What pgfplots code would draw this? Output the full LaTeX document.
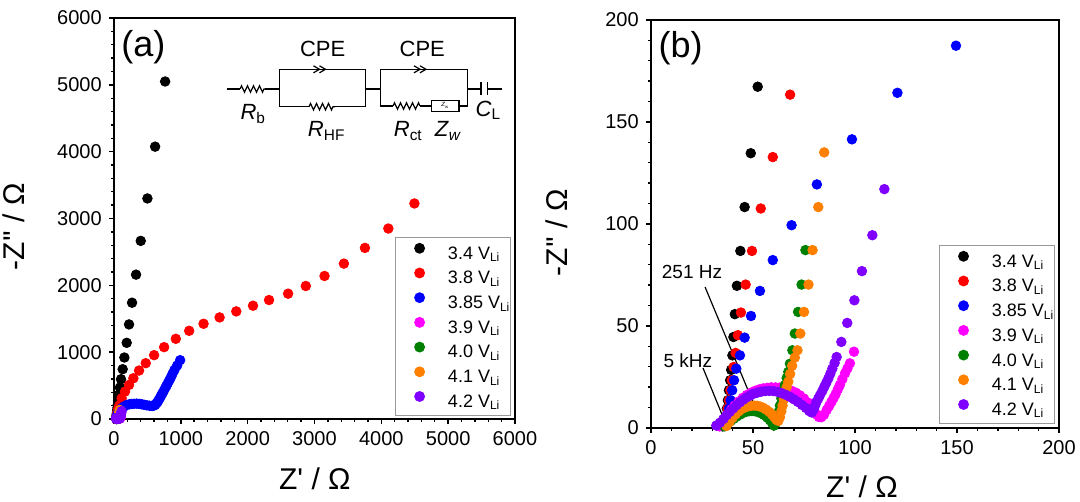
\documentclass[border=0pt]{standalone}
\usepackage{pgfplots}
\pgfplotsset{compat=1.18}
\usepackage{pgfplotstable}
\usepackage{fontspec}
\setmainfont{Liberation Sans}
\usetikzlibrary{decorations.pathmorphing}
\definecolor{cRed}{RGB}{255,0,0}
\definecolor{cBlue}{RGB}{0,0,255}
\definecolor{cMag}{RGB}{255,0,255}
\definecolor{cGreen}{RGB}{0,128,0}
\definecolor{cOrange}{RGB}{255,128,0}
\definecolor{cViolet}{RGB}{128,0,255}

\pgfplotstableread{
x y
35.0 0.8
35.8 2.5
36.6 5.4
37.2 9.5
37.7 13.6
38.2 18.5
38.8 23.4
39.3 28.5
39.9 35.6
40.4 44.6
41.1 55.8
42.1 69.7
43.8 86.8
45.9 108.3
48.9 134.7
52.3 167.3
57 215
63 280
70 360
88 470
105 595
130 745
155 920
190 1140
225 1415
270 1740
330 2160
400 2665
500 3300
615 4075
765 5050
}\dBlack

\pgfplotstableread{
x y
35.7 2.5
36.7 5.4
37.5 9.5
38.2 13.6
38.9 18.5
39.6 23.4
40.5 29.9
41.5 36.8
42.6 45.5
44.1 56.6
46.4 70.3
49.5 86.8
53.8 107.6
59.7 132.8
68.2 163.4
79.3 200.5
115 310
165 410
225 510
290 610
375 725
475 835
600 955
750 1075
925 1200
1125 1320
1340 1425
1580 1520
1830 1610
2080 1695
2320 1780
2605 1875
2870 1990
3150 2140
3440 2325
3755 2560
4105 2850
4495 3225
}\dRed

\pgfplotstableread{
x y
36.1 2.5
37.2 5.4
38.2 9.5
39.0 13.6
39.8 18.5
40.7 23.4
41.8 29.1
43.6 35.6
45.9 44.3
49.0 54.9
53.4 67.2
59.7 82.3
68.9 99.4
81.3 119.4
98.5 141.5
120.8 164.3
149.5 187.4
190 210
230 220
265 225
300 228
340 230
380 226
415 220
450 213
490 205
530 199
565 195
595 200
615 210
635 233
655 260
672 290
690 320
707 352
725 385
745 422
765 460
785 497
805 535
827 577
850 620
875 675
905 735
945 800
990 880
}\dBlue

\pgfplotstableread{
x y
33.5 0.8
35.0 2.5
36.5 4.7
38.0 7.0
39.5 9.2
41.0 11.0
43.0 13.0
45.0 14.8
47.0 16.2
49.0 17.3
51.0 18.2
53.0 18.9
55.0 19.4
57.0 19.7
59.0 19.9
61.0 19.9
63.0 19.8
65.0 19.4
67.0 18.9
69.0 18.2
71.0 17.3
73.0 16.0
75.0 14.4
77.0 12.4
78.5 10.5
80.0 8.4
81.2 6.6
82.3 5.4
83.5 5.3
84.8 6.5
86.1 8.8
87.3 10.8
88.5 12.9
89.5 14.7
90.5 16.6
91.6 19.0
92.6 21.1
93.8 23.9
95.1 26.8
96.3 29.2
97.5 31.7
99.5 37.4
}\dMag

\pgfplotstableread{
x y
36.0 0.8
37.5 2.0
39.0 3.3
40.5 4.5
42.0 5.6
43.5 6.5
45.0 7.3
46.5 7.9
48.0 8.2
49.5 8.3
51.0 8.2
52.5 7.8
54.0 7.2
55.5 6.3
57.0 5.1
58.3 3.8
59.4 2.4
60.3 1.2
61.2 2.5
62.0 5.0
62.6 8.0
63.2 11.0
63.9 14.5
64.7 18.0
65.6 21.0
66.5 24.5
67.3 27.5
68.1 31.5
69.3 38.1
70.5 46.3
72.1 56.9
73.8 70.3
75.7 87.2
}\dGreen

\pgfplotstableread{
x y
37.0 1.0
38.5 3.0
40.0 5.0
41.5 6.7
43.0 8.2
44.5 9.3
46.0 10.1
47.5 10.6
49.0 10.9
50.5 11.0
52.0 10.9
53.5 10.5
55.0 9.9
56.5 9.0
58.0 7.9
59.3 6.6
60.5 5.2
61.5 4.0
62.4 3.5
63.2 5.3
63.9 8.2
64.5 11.0
65.1 14.0
65.8 17.0
66.5 20.0
67.3 22.7
68.2 26.5
69.2 30.5
70.5 34.5
71.8 38.1
73.2 46.3
75.0 56.9
77.2 70.3
79.2 87.2
82.0 108.3
84.9 135.1
}\dOrange

\pgfplotstableread{
x y
32.0 1.2
33.8 2.6
35.5 4.4
37.1 6.3
38.7 8.0
40.3 9.6
42.0 11.2
43.6 12.6
45.3 13.9
46.9 15.0
48.5 15.9
50.1 16.7
52.0 17.3
54.0 17.8
56.0 18.1
58.0 18.2
60.0 18.1
62.0 17.7
64.0 17.1
66.0 16.3
68.0 15.3
70.0 14.1
72.0 12.8
74.0 11.3
76.0 9.8
77.6 8.3
78.8 7.6
79.7 9.0
80.4 10.9
81.1 12.8
82.0 14.4
82.8 16.0
83.9 18.0
84.9 20.1
85.9 22.1
86.9 24.2
87.9 26.6
88.9 29.1
90.0 31.9
91.0 34.8
93.3 42.2
96.2 51.5
99.7 62.6
103.4 76.9
108.5 94.5
114.4 117.1
}\dViolet

\pgfplotsset{
  eis/.style={
    scale only axis,
    tick align=outside, tick pos=left,
    major tick length=2.6pt, minor tick length=1.6pt,
    axis line style={line width=0.9pt},
    every tick/.style={black, line width=0.7pt},
    scaled ticks=false,
    /pgf/number format/1000 sep={},
    /pgf/number format/assume math mode=true,
    tick label style={font=\fontsize{10}{12}\selectfont},
    label style={font=\fontsize{15}{18}\selectfont},
    xlabel={Z\textquotesingle\ / Ω},
    ylabel={-Z\textquotesingle\textquotesingle\ / Ω},
    minor x tick num=4, minor y tick num=4,
    legend cell align=left,
    legend image code/.code={%
      \path[draw=none,fill=none] (-12pt,-2.5pt) rectangle (10pt,7pt);
      \draw[##1] plot coordinates {(0pt,3.2pt)};},
    legend style={anchor=south east, draw=black!40, line width=0.6pt,
      font=\fontsize{9}{11}\selectfont,
      inner xsep=0pt, inner ysep=1.5pt, row sep=0.6pt, column sep=4.2pt,
      nodes={inner sep=0pt, text height=7pt, text depth=2.5pt}},
  },
  pt/.style={only marks, mark=*, mark size=2.4pt, color=#1},
}

\begin{document}
\begin{tikzpicture}
\useasboundingbox (0,0) rectangle (540pt,251pt);

\begin{axis}[eis,
  at={(57pt,41.5pt)}, anchor=south west,
  width=200.5pt, height=200.5pt,
  xmin=0, xmax=6000, ymin=0, ymax=6000,
  xtick={0,1000,...,6000}, ytick={0,1000,...,6000},
  xlabel style={at={(axis description cs:0.501,-0.150)}, anchor=center},
  ylabel style={at={(axis description cs:-0.249,0.48)}, anchor=center},
  legend style={at={(0.99,0.0075)}},
]
\addplot[pt=black] table {\dBlack}; \addlegendentry{3.4 V\textsubscript{Li}}
\addplot[pt=cRed] table {\dRed}; \addlegendentry{3.8 V\textsubscript{Li}}
\addplot[pt=cBlue] table {\dBlue}; \addlegendentry{3.85 V\textsubscript{Li}}
\addplot[pt=cMag] table {\dMag}; \addlegendentry{3.9 V\textsubscript{Li}}
\addplot[pt=cGreen] table {\dGreen}; \addlegendentry{4.0 V\textsubscript{Li}}
\addplot[pt=cOrange] table {\dOrange}; \addlegendentry{4.1 V\textsubscript{Li}}
\addplot[pt=cViolet] table {\dViolet}; \addlegendentry{4.2 V\textsubscript{Li}}
\end{axis}

\begin{axis}[eis,
  at={(325.5pt,37pt)}, anchor=south west,
  width=204pt, height=204pt,
  xmin=0, xmax=200, ymin=0, ymax=200,
  xtick={0,50,...,200}, ytick={0,50,...,200},
  restrict x to domain=0:215, restrict y to domain=0:215,
  xlabel style={at={(axis description cs:0.517,-0.143)}, anchor=center},
  ylabel style={at={(axis description cs:-0.230,0.479)}, anchor=center},
  legend style={at={(0.99,0.0098)}},
]
\addplot[pt=black] table {\dBlack}; \addlegendentry{3.4 V\textsubscript{Li}}
\addplot[pt=cRed] table {\dRed}; \addlegendentry{3.8 V\textsubscript{Li}}
\addplot[pt=cBlue] table {\dBlue}; \addlegendentry{3.85 V\textsubscript{Li}}
\addplot[pt=cMag] table {\dMag}; \addlegendentry{3.9 V\textsubscript{Li}}
\addplot[pt=cGreen] table {\dGreen}; \addlegendentry{4.0 V\textsubscript{Li}}
\addplot[pt=cOrange] table {\dOrange}; \addlegendentry{4.1 V\textsubscript{Li}}
\addplot[pt=cViolet] table {\dViolet}; \addlegendentry{4.2 V\textsubscript{Li}}
\draw[line width=0.6pt] (axis cs:26.5,69.1) -- (axis cs:50,12.7);
\draw[line width=0.6pt] (axis cs:25.5,29.4) -- (axis cs:35.3,5.4);
\node[font=\fontsize{9.5}{11}\selectfont, anchor=center] at (axis cs:20.1,76.5) {251 Hz};
\node[font=\fontsize{9.5}{11}\selectfont, anchor=center] at (axis cs:18.1,32.8) {5 kHz};
\end{axis}

% panel labels and circuit (pixel coordinates)
\begin{scope}[x=0.5pt, y=-0.5pt, yshift=251pt, line width=0.6pt]
\node[font=\fontsize{18}{20}\selectfont] at (143.3,46.7) {(a)};
\node[font=\fontsize{18}{20}\selectfont] at (680.7,48.3) {(b)};
\tikzset{res/.style={decorate, decoration={zigzag, segment length=3pt, amplitude=1.6pt}}}
% Rb
\draw (226.7,89) -- (240,89);
\draw[res] (240,89) -- (265,89);
\draw (265,89) -- (279.3,89);
% block 1
\draw (309,106.7) -- (279.3,106.7) -- (279.3,69.3) -- (365.7,69.3) -- (365.7,106.7) -- (335,106.7);
\draw[res] (309,106.7) -- (335,106.7);
\draw (313.5,65.8) -- (319.5,69.3) -- (313.5,72.8);
\draw (319.5,65.8) -- (325.5,69.3) -- (319.5,72.8);
% connector
\draw (365.7,89) -- (380.7,89);
% block 2
\draw (393,106) -- (380.7,106) -- (380.7,69.3) -- (467.3,69.3) -- (467.3,106) -- (459,106);
\draw[res] (393,106) -- (420,106);
\draw (420,106) -- (431.7,106);
\draw (431.7,100.5) rectangle (459,111.2);
\node[font=\fontsize{3}{3}\selectfont, inner sep=0pt] at (445.3,105.8) {\textit{Z}\textsubscript{w}};
\draw (414,65.8) -- (420,69.3) -- (414,72.8);
\draw (420,65.8) -- (426,69.3) -- (420,72.8);
% capacitor
\draw (467.3,89) -- (480.7,89);
\draw[line width=0.8pt] (480.7,82.5) -- (480.7,95.5);
\draw[line width=0.8pt] (487.3,82.5) -- (487.3,95.5);
\draw (487.3,89) -- (502.3,89);
% labels
\node[font=\fontsize{11}{13}\selectfont] at (322.7,49.3) {CPE};
\node[font=\fontsize{11}{13}\selectfont] at (422.3,49.3) {CPE};
\node[font=\fontsize{11}{13}\selectfont] at (253.3,114) {\textit{R}\textsubscript{b}};
\node[font=\fontsize{11}{13}\selectfont] at (326.7,131) {\textit{R}\textsubscript{HF}};
\node[font=\fontsize{11}{13}\selectfont] at (408.3,131) {\textit{R}\textsubscript{ct}};
\node[font=\fontsize{11}{13}\selectfont] at (448.3,131) {\textit{Z}\textsubscript{\textit{w}}};
\node[font=\fontsize{11}{13}\selectfont] at (488.3,110) {\textit{C}\textsubscript{L}};
\end{scope}
\end{tikzpicture}
\end{document}
